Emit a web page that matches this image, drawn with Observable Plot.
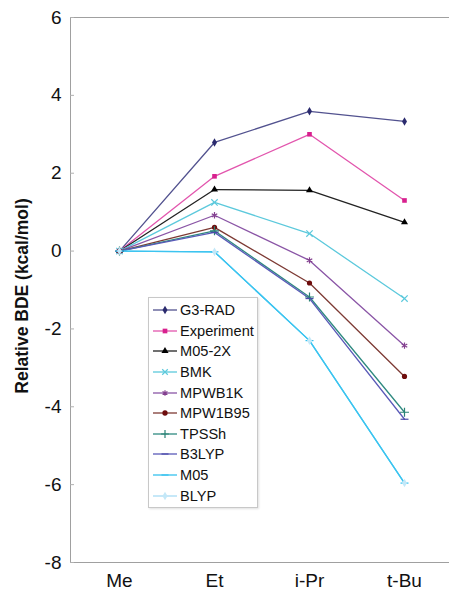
<!DOCTYPE html>
<html><head><meta charset="utf-8">
<script src="https://cdn.jsdelivr.net/npm/d3@7"></script>
<script src="https://cdn.jsdelivr.net/npm/@observablehq/plot@0.6"></script>
<style>
html,body{margin:0;padding:0;background:#fff;overflow:hidden;font-family:"Liberation Sans",Arial,sans-serif;}
#wrap{position:relative;width:449px;height:595px;overflow:hidden;}
#legend{position:absolute;left:148px;top:297px;width:108px;border:1px solid #c8c8c8;background:#fff;box-shadow:1px 1px 2px rgba(0,0,0,0.12);padding:2px 0 1px 0;}
.item{display:flex;align-items:center;height:20.6px;font-size:14.6px;color:#111;}
.item svg{margin-left:3px;margin-right:2px;flex:none;}
</style></head><body><div id="wrap"></div>
<script>
const categories = ["Me", "Et", "i-Pr", "t-Bu"];
const methods = ["G3-RAD", "Experiment", "M05-2X", "BMK", "MPWB1K", "MPW1B95", "TPSSh", "B3LYP", "M05", "BLYP"];
const g3rad      = [0, 2.79, 3.59, 3.33];
const experiment = [0, 1.92, 3.00, 1.30];
const m052x      = [0, 1.58, 1.56, 0.74];
const bmk        = [0, 1.25, 0.45, -1.22];
const mpwb1k     = [0, 0.92, -0.24, -2.43];
const mpw1b95    = [0, 0.61, -0.82, -3.22];
const tpssh      = [0, 0.52, -1.18, -4.14];
const b3lyp      = [0, 0.48, -1.22, -4.32];
const m05        = [0, -0.02, -2.30, -5.96];
const blyp       = [0, -0.02, -2.30, -5.96];
const yTicks = [6, 4, 2, 0, -2, -4, -6, -8];
const yLabel = "Relative BDE (kcal/mol)";

const seriesValues = [g3rad, experiment, m052x, bmk, mpwb1k, mpw1b95, tpssh, b3lyp, m05, blyp];
const lineColors   = ["#52528f", "#e255ad", "#222222", "#5cc9dc", "#8a55a6", "#7d3a34", "#2f8a80", "#5a5ab8", "#35c2ef", "#3cc4f0"];
const legendLineColors = ["#52528f", "#e255ad", "#222222", "#5cc9dc", "#8a55a6", "#7d3a34", "#2f8a80", "#5a5ab8", "#35c2ef", "#a8dcf5"];
const markColors   = ["#2b2b6e", "#d8208e", "#000000", "#5cc9dc", "#84408f", "#6e0d0d", "#2a8275", "#4a4aa8", "#35c2ef", "#c4e8f8"];

const dash = {draw(ctx, size) { const r = Math.sqrt(size) * 0.75; ctx.moveTo(-r, 0); ctx.lineTo(r, 0); }};
const markSymbols = ["diamond", "square", "triangle", "times", "asterisk", "circle", "plus", dash, dash, "diamond"];
const filled = [true, true, true, false, false, true, false, false, false, true];

const rows = methods.flatMap((m, i) => categories.map((c, j) => ({method: m, cat: c, value: seriesValues[i][j]})));

const marks = [
  Plot.frame({stroke: "#a0a0a0"}),
  Plot.axisY(yTicks, {tickSize: -4, tickPadding: 13, stroke: "#b0b0b0", fontSize: 19, fill: "#111", label: null, tickFormat: d => String(d)}),
  Plot.axisX(categories, {tickSize: 0, tickPadding: 11, fontSize: 19, fill: "#111", label: null}),
  Plot.text([yLabel], {frameAnchor: "left", textAnchor: "middle", rotate: -90, dx: -48, dy: 6, fontWeight: "bold", fontSize: 17.5, fill: "#111"})
];
methods.forEach((m, i) => {
  const d = rows.filter(r => r.method === m);
  marks.push(Plot.line(d, {x: "cat", y: "value", stroke: lineColors[i], strokeWidth: 1.3}));
});
methods.forEach((m, i) => {
  const d = rows.filter(r => r.method === m);
  const sym = markSymbols[i];
  marks.push(Plot.dot(d, filled[i]
    ? {x: "cat", y: "value", symbol: () => sym, r: 2.6, fill: markColors[i], stroke: "none"}
    : {x: "cat", y: "value", symbol: () => sym, r: 3.0, fill: "none", stroke: markColors[i], strokeWidth: 1.2}));
});

const chart = Plot.plot({
  width: 449, height: 595,
  marginLeft: 70, marginTop: 17, marginBottom: 33, marginRight: -4,
  style: {fontFamily: "Liberation Sans, Arial, sans-serif", fontSize: "19px", background: "#fff", overflow: "hidden"},
  x: {type: "point", domain: categories, padding: 0.5, axis: null},
  y: {domain: [-8, 6], axis: null},
  symbol: {type: "identity"},
  marks
});
const wrap = document.getElementById("wrap");
wrap.appendChild(chart);

const legend = document.createElement("div");
legend.id = "legend";
methods.forEach((m, i) => {
  const item = document.createElement("div");
  item.className = "item";
  const svg = d3.create("svg").attr("width", 26).attr("height", 12);
  svg.append("line").attr("x1", 1).attr("x2", 25).attr("y1", 6).attr("y2", 6).attr("stroke", legendLineColors[i]).attr("stroke-width", 1.3);
  const sym = typeof markSymbols[i] === "string"
    ? {diamond: d3.symbolDiamond, square: d3.symbolSquare, triangle: d3.symbolTriangle, times: d3.symbolTimes, asterisk: d3.symbolAsterisk, circle: d3.symbolCircle, plus: d3.symbolPlus}[markSymbols[i]]
    : markSymbols[i];
  svg.append("path").attr("transform", "translate(13,6)")
    .attr("d", d3.symbol(sym, 22)())
    .attr("fill", filled[i] ? markColors[i] : "none")
    .attr("stroke", filled[i] ? "none" : markColors[i]).attr("stroke-width", 1.2);
  item.appendChild(svg.node());
  const t = document.createElement("span");
  t.textContent = m;
  item.appendChild(t);
  legend.appendChild(item);
});
wrap.appendChild(legend);
</script>
</body></html>
